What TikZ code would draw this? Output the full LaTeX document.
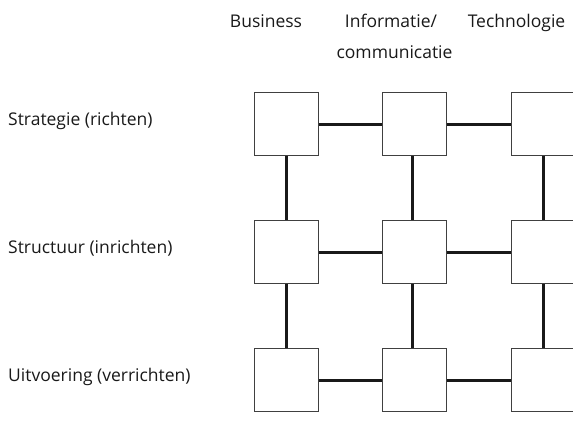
\documentclass[tikz,border=0pt]{standalone}
\usepackage{fontspec}
\setmainfont{Open Sans}
\begin{document}
\begin{tikzpicture}[x=1pt,y=-1pt,
  cell/.style={draw=black!75,line width=1pt,fill=white,minimum width=64pt,minimum height=63pt,inner sep=0pt},
  link/.style={line width=3pt,draw=black!90},
  lbl/.style={font=\fontsize{17.5}{28}\selectfont,text=black!90,inner sep=0pt}]
\useasboundingbox (0,0) rectangle (573,436);
% headers
\node[lbl,anchor=base] (hb) at (266,28) {Business};
\node[lbl,anchor=base] (hi) at (391,28) {Informatie/};
\node[lbl,anchor=base] (hc) at (394.5,59) {communicatie};
\node[lbl,anchor=base] (ht) at (516.5,28) {Technologie};
% row labels
\node[lbl,anchor=base west] (rs) at (8,125) {Strategie (richten)};
\node[lbl,anchor=base west] (rt) at (8,253) {Structuur (inrichten)};
\node[lbl,anchor=base west] (ru) at (8,381) {Uitvoering (verrichten)};
% connectors first (behind boxes)
\coordinate (c11) at (286,124);
\coordinate (c12) at (414,124);
\coordinate (c13) at (543,124);
\coordinate (c21) at (286,252);
\coordinate (c22) at (414,252);
\coordinate (c23) at (543,252);
\coordinate (c31) at (286,380);
\coordinate (c32) at (414,380);
\coordinate (c33) at (543,380);
\draw[link] (c11) -- (c12) -- (c13);
\draw[link] (c21) -- (c22) -- (c23);
\draw[link] (c31) -- (c32) -- (c33);
\draw[link] (c11) -- (c21) -- (c31);
\draw[link] ([xshift=-2pt]c12) -- ([xshift=-2pt]c22) -- ([xshift=-2pt]c32);
\draw[link] (c13) -- (c23) -- (c33);
% boxes
\node[cell] (b11) at (c11) {};
\node[cell] (b12) at (c12) {};
\node[cell] (b13) at (c13) {};
\node[cell] (b21) at (c21) {};
\node[cell] (b22) at (c22) {};
\node[cell] (b23) at (c23) {};
\node[cell] (b31) at (c31) {};
\node[cell] (b32) at (c32) {};
\node[cell] (b33) at (c33) {};
\end{tikzpicture}
\end{document}
